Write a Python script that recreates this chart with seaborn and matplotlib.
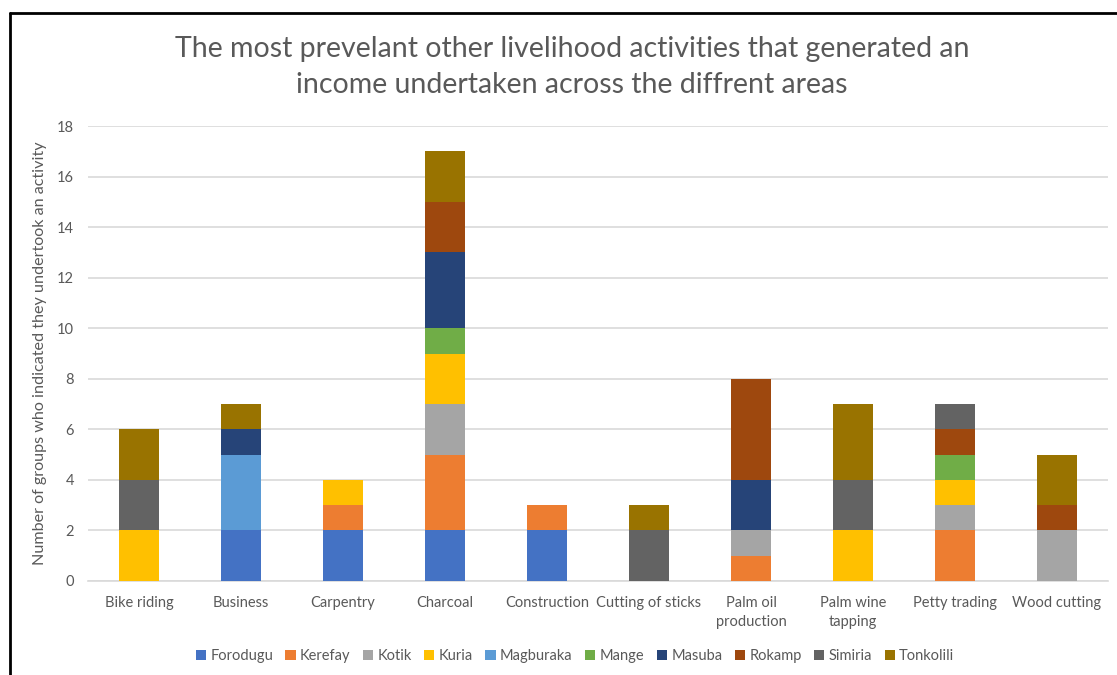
import matplotlib
matplotlib.use("Agg")
import matplotlib.pyplot as plt
from matplotlib.patches import Patch
from matplotlib.lines import Line2D
import numpy as np
import pandas as pd
import seaborn as sns

activities = ["Bike riding", "Business", "Carpentry", "Charcoal", "Construction",
              "Cutting of sticks", "Palm oil\nproduction", "Palm wine\ntapping",
              "Petty trading", "Wood cutting"]

areas = ["Forodugu", "Kerefay", "Kotik", "Kuria", "Magburaka",
         "Mange", "Masuba", "Rokamp", "Simiria", "Tonkolili"]

forodugu  = [0, 2, 2, 2, 2, 0, 0, 0, 0, 0]
kerefay   = [0, 0, 1, 3, 1, 0, 1, 0, 2, 0]
kotik     = [0, 0, 0, 2, 0, 0, 1, 0, 1, 2]
kuria     = [2, 0, 1, 2, 0, 0, 0, 2, 1, 0]
magburaka = [0, 3, 0, 0, 0, 0, 0, 0, 0, 0]
mange     = [0, 0, 0, 1, 0, 0, 0, 0, 1, 0]
masuba    = [0, 1, 0, 3, 0, 0, 2, 0, 0, 0]
rokamp    = [0, 0, 0, 2, 0, 0, 4, 0, 1, 1]
simiria   = [2, 0, 0, 0, 0, 2, 0, 2, 1, 0]
tonkolili = [2, 1, 0, 2, 0, 1, 0, 3, 0, 2]

colors = ["#4472C4", "#ED7D31", "#A5A5A5", "#FFC000", "#5B9BD5",
          "#70AD47", "#264478", "#9E480E", "#636363", "#997300"]

df = pd.DataFrame(
    np.array([forodugu, kerefay, kotik, kuria, magburaka,
              mange, masuba, rokamp, simiria, tonkolili]).T,
    index=activities, columns=areas)
cum = df.cumsum(axis=1)

sns.set_theme(style="white")
plt.rcParams["font.family"] = ["Lato", "DejaVu Sans"]
text_col = "#595959"

fig = plt.figure(figsize=(11.17, 6.75), dpi=100)
ax = fig.add_axes([88 / 1117, 1 - 581 / 675, (1108 - 88) / 1117, (581 - 126) / 675])

# stacked bars: draw cumulative totals from the top series down
for area, col in zip(reversed(areas), reversed(colors)):
    sns.barplot(x=activities, y=cum[area].values, color=col, width=0.4,
                saturation=1, linewidth=0, ax=ax, zorder=3)

ax.set_ylim(0, 18)
ax.set_xlim(-0.5, len(activities) - 0.5)
ax.set_yticks(np.arange(0, 19, 2))
ax.yaxis.grid(True, color="#D9D9D9", linewidth=1.2, zorder=0)
ax.set_axisbelow(True)
for s in ["left", "right", "top"]:
    ax.spines[s].set_visible(False)
ax.spines["bottom"].set_color("#D9D9D9")
ax.spines["bottom"].set_linewidth(1.2)
ax.tick_params(axis="both", length=0, labelsize=10.5, colors=text_col)
ax.tick_params(axis="x", pad=11)
ax.tick_params(axis="y", pad=10)
for lbl in ax.get_xticklabels():
    lbl.set_linespacing(1.45)
ax.set_xlabel("")
ax.set_ylabel("Number of groups who indicated they undertook an activity",
              fontsize=11.6, color=text_col, labelpad=7)

fig.text(0.512, 1 - 67 / 675,
         "The most prevelant other livelihood activities that generated an\n"
         "income undertaken across the diffrent areas",
         ha="center", va="center", fontsize=20.5, color=text_col, linespacing=1.45)

handles = [Patch(facecolor=c, edgecolor="none") for c in colors]
fig.legend(handles, areas, loc="center", bbox_to_anchor=(575 / 1117, 1 - 656 / 675),
           ncol=10, frameon=False, fontsize=10.5, handlelength=0.7, handleheight=0.7,
           handletextpad=0.3, columnspacing=0.85, labelcolor=text_col)

# chart border
bx, by = 10 / 1117, 1 - 13 / 675
fig.add_artist(Line2D([bx, bx], [0, by], color="black", linewidth=2, transform=fig.transFigure))
fig.add_artist(Line2D([bx, 1], [by, by], color="black", linewidth=2, transform=fig.transFigure))

fig.savefig("out.png", dpi=100)
